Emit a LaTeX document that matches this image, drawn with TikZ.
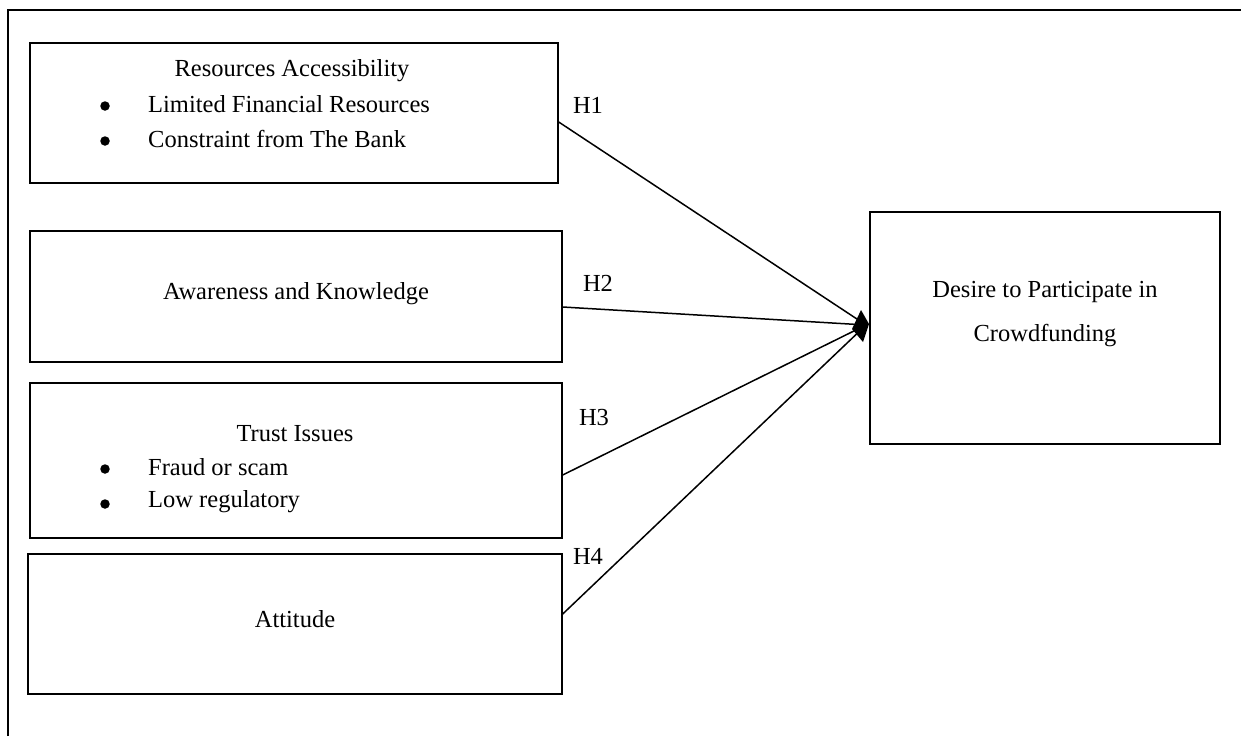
\documentclass[tikz,border=0pt]{standalone}
\usepackage{fontspec}
\setmainfont{Liberation Serif}
\begin{document}
\begin{tikzpicture}[x=1pt,y=-1pt,
  box/.style={draw,line width=1.4pt,inner sep=0pt},
  txt/.style={font=\fontsize{24.5}{28}\selectfont,inner sep=0pt},
  bul/.style={circle,fill,inner sep=0pt,minimum size=9.5pt},
  con/.style={line width=1.5pt}]
\useasboundingbox (0,0) rectangle (1241,736);
% outer frame (left and top only)
\coordinate (fa) at (8,736);
\coordinate (fb) at (8,10);
\coordinate (fc) at (1241,10);
\draw[line width=1.5pt] (fa) -- (fb) -- (fc);
% boxes
\node[box,minimum width=528pt,minimum height=140pt] (b1) at (294,113) {};
\node[box,minimum width=532pt,minimum height=131pt] (b2) at (296,296.5) {};
\node[box,minimum width=532pt,minimum height=155pt] (b3) at (296,460.5) {};
\node[box,minimum width=534pt,minimum height=140pt] (b4) at (295,624) {};
\node[box,minimum width=350pt,minimum height=232pt] (d) at (1045,328) {};
% texts
\node[txt] (t1) at (292,71) {Resources Accessibility};
\node[bul] (u1) at (105,106) {};
\node[txt,anchor=west] (t1a) at (148,104) {Limited Financial Resources};
\node[bul] (u2) at (105,141) {};
\node[txt,anchor=west] (t1b) at (148,139) {Constraint from The Bank};
\node[txt] (t2) at (296,294) {Awareness and Knowledge};
\node[txt] (t3) at (295,434) {Trust Issues};
\node[bul] (u3) at (105,469) {};
\node[txt,anchor=west] (t3a) at (148,467) {Fraud or scam};
\node[bul] (u4) at (105,504) {};
\node[txt,anchor=west] (t3b) at (148,502) {Low regulatory};
\node[txt] (t4) at (295,619) {Attitude};
\node[txt] (d1) at (1045,292) {Desire to Participate in};
\node[txt] (d2) at (1045,336) {Crowdfunding};
% hypothesis labels
\node[txt] (h1) at (588,105) {H1};
\node[txt] (h2) at (598,283) {H2};
\node[txt] (h3) at (594,418) {H3};
\node[txt] (h4) at (588,556) {H4};
% connectors
\coordinate (tip) at (866,325);
\draw[con] ([yshift=-9pt]b1.east) -- (tip);
\draw[con] ([yshift=-10.5pt]b2.east) -- (tip);
\draw[con] ([yshift=-14.5pt]b3.east) -- (tip);
\draw[con] ([yshift=10pt]b4.east) -- (tip);
\fill (861,310) -- (869,324) -- (863,342) -- (852,329) -- cycle;
\end{tikzpicture}
\end{document}
